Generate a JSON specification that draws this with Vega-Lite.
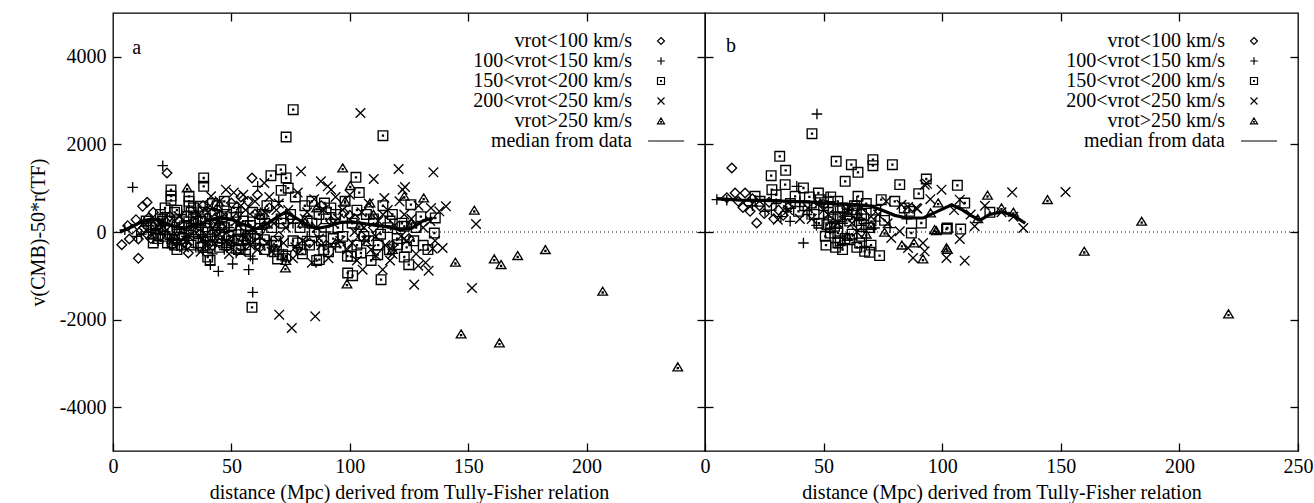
{
  "$schema": "https://vega.github.io/schema/vega-lite/v6.json",
  "background": "white",
  "padding": {"left": 27, "top": 11, "right": 2, "bottom": 0},
  "autosize": {"type": "pad"},
  "spacing": 0,
  "bounds": "flush",
  "datasets": {
    "ptsA": [
      {"c":"D","x":3.7,"y":-290},{"c":"D","x":6.9,"y":-160},{"c":"D","x":10.7,"y":-160},{"c":"D","x":14.6,"y":-61},{"c":"D","x":10.7,"y":-601},{"c":"D","x":6.2,"y":144},{"c":"D","x":9.7,"y":281},{"c":"D","x":12.5,"y":586},{"c":"D","x":14.4,"y":678},{"c":"D","x":22.8,"y":1347},{"c":"D","x":8,"y":60},{"c":"D","x":12,"y":40},{"c":"D","x":15,"y":320},{"c":"D","x":17,"y":450},{"c":"D","x":18,"y":180},{"c":"D","x":20,"y":-90},{"c":"D","x":22,"y":120},{"c":"D","x":24,"y":360},{"c":"D","x":26,"y":-160},{"c":"D","x":28,"y":260},{"c":"D","x":30,"y":-240},{"c":"D","x":31.3,"y":-289},{"c":"D","x":31.8,"y":-479},{"c":"D","x":33,"y":60},{"c":"D","x":35,"y":390},{"c":"D","x":37,"y":-40},{"c":"D","x":40,"y":190},{"c":"D","x":42,"y":-310},{"c":"D","x":44,"y":520},{"c":"D","x":46,"y":90},{"c":"D","x":48,"y":-120},{"c":"D","x":50,"y":660},{"c":"D","x":52,"y":310},{"c":"D","x":54,"y":800},{"c":"D","x":56,"y":-210},{"c":"D","x":58.7,"y":1233},{"c":"D","x":60,"y":410},{"c":"D","x":62,"y":-350},{"c":"D","x":64,"y":150},{"c":"D","x":66,"y":550},{"c":"D","x":70,"y":-100},{"c":"D","x":75,"y":300},{"c":"D","x":78,"y":-400},{"c":"D","x":83,"y":-250},{"c":"D","x":88,"y":600},{"c":"D","x":92,"y":250},{"c":"D","x":97.6,"y":434},{"c":"D","x":100,"y":380},{"c":"D","x":102,"y":300},{"c":"D","x":105,"y":-100},{"c":"D","x":110,"y":100},{"c":"D","x":118,"y":-300},{"c":"D","x":125,"y":-150},{"c":"D","x":19,"y":230},{"c":"D","x":27,"y":30},{"c":"D","x":38,"y":600},{"c":"D","x":57,"y":700},{"c":"D","x":61,"y":850},
      {"c":"D","x":13,"y":100},{"c":"D","x":16,"y":-150},{"c":"D","x":21,"y":30},{"c":"D","x":25,"y":-300},{"c":"D","x":29,"y":-100},{"c":"D","x":34,"y":250},{"c":"D","x":39,"y":-200},{"c":"D","x":43,"y":300},
      {"c":"P","x":8.3,"y":1020},{"c":"P","x":21,"y":1514},{"c":"P","x":41.1,"y":-746},{"c":"P","x":44.5,"y":-898},{"c":"P","x":50.5,"y":-731},{"c":"P","x":57.3,"y":-860},{"c":"P","x":59,"y":-616},{"c":"P","x":55.7,"y":-404},{"c":"P","x":59,"y":-1377},{"c":"P","x":61.1,"y":1043},{"c":"P","x":5,"y":50},{"c":"P","x":10,"y":-100},{"c":"P","x":13,"y":200},{"c":"P","x":16,"y":0},{"c":"P","x":19,"y":-200},{"c":"P","x":21,"y":350},{"c":"P","x":23,"y":-50},{"c":"P","x":25,"y":150},{"c":"P","x":27,"y":-250},{"c":"P","x":29,"y":400},{"c":"P","x":31,"y":-100},{"c":"P","x":33,"y":200},{"c":"P","x":35,"y":-350},{"c":"P","x":37,"y":100},{"c":"P","x":39,"y":-200},{"c":"P","x":41,"y":300},{"c":"P","x":43,"y":-50},{"c":"P","x":45,"y":200},{"c":"P","x":47,"y":-400},{"c":"P","x":49,"y":100},{"c":"P","x":51,"y":-250},{"c":"P","x":53,"y":450},{"c":"P","x":55,"y":-100},{"c":"P","x":57,"y":250},{"c":"P","x":60,"y":-300},{"c":"P","x":63,"y":100},{"c":"P","x":66,"y":-200},{"c":"P","x":70,"y":700},{"c":"P","x":72,"y":-500},{"c":"P","x":76,"y":200},{"c":"P","x":82,"y":-100},{"c":"P","x":90,"y":0},{"c":"P","x":18,"y":80},{"c":"P","x":24,"y":-170},{"c":"P","x":28,"y":110},{"c":"P","x":34,"y":-60},{"c":"P","x":38,"y":-420},{"c":"P","x":42,"y":-500},{"c":"P","x":46,"y":-250},{"c":"P","x":52,"y":-480},{"c":"P","x":58,"y":-550},
      {"c":"P","x":12,"y":-50},{"c":"P","x":15,"y":150},{"c":"P","x":22,"y":200},{"c":"P","x":26,"y":-50},{"c":"P","x":30,"y":250},{"c":"P","x":36,"y":-150},{"c":"P","x":40,"y":-50},{"c":"P","x":44,"y":100},{"c":"P","x":48,"y":-350},{"c":"P","x":54,"y":50},
      {"c":"S","x":24.5,"y":960},{"c":"S","x":24.5,"y":820},{"c":"S","x":24.5,"y":720},{"c":"S","x":32.1,"y":815},{"c":"S","x":32.1,"y":700},{"c":"S","x":32.1,"y":586},{"c":"S","x":38.3,"y":1233},{"c":"S","x":38.3,"y":1043},{"c":"S","x":36.9,"y":586},{"c":"S","x":66.7,"y":1286},{"c":"S","x":70.9,"y":1423},{"c":"S","x":73.1,"y":1233},{"c":"S","x":76.1,"y":2792},{"c":"S","x":73.1,"y":2169},{"c":"S","x":114,"y":2199},{"c":"S","x":102.6,"y":1248},{"c":"S","x":40,"y":-571},{"c":"S","x":58.7,"y":-1720},{"c":"S","x":69.5,"y":-616},{"c":"S","x":71.6,"y":-518},{"c":"S","x":52.6,"y":-160},{"c":"S","x":63.9,"y":-175},{"c":"S","x":68.8,"y":-213},{"c":"S","x":79.4,"y":-404},{"c":"S","x":87.1,"y":-631},{"c":"S","x":89.3,"y":662},{"c":"S","x":99.1,"y":-936},{"c":"S","x":101.2,"y":-997},{"c":"S","x":113.2,"y":-1088},{"c":"S","x":123,"y":-571},{"c":"S","x":124.9,"y":-746},{"c":"S","x":111.8,"y":-518},{"c":"S","x":116.7,"y":-404},{"c":"S","x":120.2,"y":-289},{"c":"S","x":123,"y":130},{"c":"S","x":100.5,"y":-555},{"c":"S","x":104.7,"y":-479},{"c":"S","x":125.8,"y":623},{"c":"S","x":136.1,"y":320},{"c":"S","x":135.7,"y":-23},{"c":"S","x":131,"y":-304},
      {"c":"S","x":18,"y":150},{"c":"S","x":20,"y":400},{"c":"S","x":22,"y":-100},{"c":"S","x":24,"y":250},{"c":"S","x":26,"y":-300},{"c":"S","x":27,"y":500},{"c":"S","x":29,"y":100},{"c":"S","x":30,"y":-150},{"c":"S","x":34,"y":300},{"c":"S","x":36,"y":-250},{"c":"S","x":38,"y":450},{"c":"S","x":40,"y":0},{"c":"S","x":41,"y":-650},{"c":"S","x":42,"y":650},{"c":"S","x":44,"y":-200},{"c":"S","x":46,"y":350},{"c":"S","x":47,"y":700},{"c":"S","x":48,"y":-300},{"c":"S","x":50,"y":150},{"c":"S","x":51,"y":550},{"c":"S","x":53,"y":-400},{"c":"S","x":55,"y":250},{"c":"S","x":57,"y":-150},{"c":"S","x":59,"y":450},{"c":"S","x":61,"y":-50},{"c":"S","x":62,"y":300},{"c":"S","x":64,"y":-400},{"c":"S","x":65,"y":600},{"c":"S","x":67,"y":100},{"c":"S","x":69,"y":-300},{"c":"S","x":71,"y":950},{"c":"S","x":72,"y":200},{"c":"S","x":73,"y":-550},{"c":"S","x":74,"y":1000},{"c":"S","x":75,"y":400},{"c":"S","x":76,"y":-200},{"c":"S","x":77,"y":800},{"c":"S","x":79,"y":100},{"c":"S","x":80,"y":-500},{"c":"S","x":81,"y":600},{"c":"S","x":82,"y":250},{"c":"S","x":83,"y":-300},{"c":"S","x":84,"y":700},{"c":"S","x":85,"y":0},{"c":"S","x":86,"y":-650},{"c":"S","x":87,"y":400},{"c":"S","x":88,"y":-200},{"c":"S","x":90,"y":300},{"c":"S","x":91,"y":-450},{"c":"S","x":92,"y":550},{"c":"S","x":93,"y":-150},{"c":"S","x":95,"y":100},{"c":"S","x":96,"y":-350},{"c":"S","x":98,"y":700},{"c":"S","x":99,"y":-550},{"c":"S","x":101,"y":200},{"c":"S","x":103,"y":-300},{"c":"S","x":104,"y":900},{"c":"S","x":106,"y":-100},{"c":"S","x":107,"y":400},{"c":"S","x":109,"y":-650},{"c":"S","x":110,"y":300},{"c":"S","x":112,"y":-300},{"c":"S","x":114,"y":600},{"c":"S","x":116,"y":100},{"c":"S","x":118,"y":400},{"c":"S","x":120,"y":-150},{"c":"S","x":122,"y":200},{"c":"S","x":127,"y":-200},{"c":"S","x":130,"y":350},{"c":"S","x":133,"y":-400},
      {"c":"S","x":16,"y":100},{"c":"S","x":19,"y":-150},{"c":"S","x":21,"y":300},{"c":"S","x":23,"y":50},{"c":"S","x":25,"y":-250},{"c":"S","x":28,"y":-50},{"c":"S","x":31,"y":350},{"c":"S","x":33,"y":-300},{"c":"S","x":35,"y":0},{"c":"S","x":37,"y":250},{"c":"S","x":39,"y":-100},{"c":"S","x":43,"y":400},{"c":"S","x":45,"y":-350},{"c":"S","x":49,"y":-100},{"c":"S","x":17,"y":-250},{"c":"S","x":26,"y":450},{"c":"S","x":34,"y":550},{"c":"S","x":45,"y":-50},
      {"c":"S","x":20,"y":50},{"c":"S","x":23,"y":-250},{"c":"S","x":29,"y":-300},{"c":"S","x":32,"y":150},{"c":"S","x":36,"y":50},{"c":"S","x":39,"y":300},{"c":"S","x":41,"y":-300},{"c":"S","x":43,"y":150},{"c":"S","x":47,"y":100},{"c":"S","x":50,"y":-200},{"c":"S","x":52,"y":450},{"c":"S","x":54,"y":50},{"c":"S","x":56,"y":-400},{"c":"S","x":58,"y":150},{"c":"S","x":60,"y":-150},{"c":"S","x":63,"y":400},
      {"c":"S","x":14,"y":250},{"c":"S","x":17,"y":-50},{"c":"S","x":22,"y":550},{"c":"S","x":27,"y":-400},{"c":"S","x":33,"y":450},{"c":"S","x":38,"y":-350},{"c":"S","x":44,"y":600},{"c":"S","x":48,"y":400},{"c":"S","x":53,"y":-200},{"c":"S","x":58,"y":-100},{"c":"S","x":64,"y":200},{"c":"S","x":68,"y":-450},{"c":"S","x":71,"y":300},{"c":"S","x":78,"y":-250},{"c":"S","x":84,"y":200},{"c":"S","x":89,"y":-400},{"c":"S","x":94,"y":400},{"c":"S","x":97,"y":-100},{"c":"S","x":103,"y":500},{"c":"S","x":108,"y":-200},{"c":"S","x":113,"y":-50},{"c":"S","x":117,"y":250},{"c":"S","x":124,"y":-350},{"c":"S","x":128,"y":100},
      {"c":"X","x":104.5,"y":2717},{"c":"X","x":79.4,"y":1385},{"c":"X","x":87.8,"y":1157},{"c":"X","x":90.7,"y":1043},{"c":"X","x":92.1,"y":966},{"c":"X","x":110.1,"y":1210},{"c":"X","x":120.6,"y":1438},{"c":"X","x":135.3,"y":1362},{"c":"X","x":47.7,"y":966},{"c":"X","x":63.9,"y":1119},{"c":"X","x":41.4,"y":815},{"c":"X","x":70.2,"y":-1887},{"c":"X","x":75.5,"y":-2192},{"c":"X","x":85.4,"y":-1925},{"c":"X","x":114.6,"y":776},{"c":"X","x":122.3,"y":966},{"c":"X","x":123.3,"y":1027},{"c":"X","x":134.3,"y":548},{"c":"X","x":137.8,"y":472},{"c":"X","x":140.6,"y":586},{"c":"X","x":153.3,"y":183},{"c":"X","x":135,"y":-380},{"c":"X","x":139.2,"y":-365},{"c":"X","x":127.2,"y":-1202},{"c":"X","x":151.6,"y":-1278},{"c":"X","x":105.4,"y":-860},{"c":"X","x":113.9,"y":-860},{"c":"X","x":128.9,"y":-769},{"c":"X","x":133.3,"y":-883},{"c":"X","x":121.6,"y":-99},{"c":"X","x":111,"y":-540},
      {"c":"X","x":32,"y":-100},{"c":"X","x":36,"y":400},{"c":"X","x":39,"y":-300},{"c":"X","x":42,"y":100},{"c":"X","x":45,"y":700},{"c":"X","x":48,"y":-200},{"c":"X","x":51,"y":900},{"c":"X","x":52,"y":250},{"c":"X","x":54,"y":-450},{"c":"X","x":55,"y":850},{"c":"X","x":56,"y":500},{"c":"X","x":58,"y":-300},{"c":"X","x":60,"y":700},{"c":"X","x":62,"y":-100},{"c":"X","x":64,"y":450},{"c":"X","x":66,"y":800},{"c":"X","x":67,"y":-450},{"c":"X","x":68,"y":200},{"c":"X","x":70,"y":650},{"c":"X","x":72,"y":-250},{"c":"X","x":74,"y":500},{"c":"X","x":76,"y":-600},{"c":"X","x":78,"y":900},{"c":"X","x":80,"y":-200},{"c":"X","x":82,"y":450},{"c":"X","x":84,"y":-700},{"c":"X","x":85,"y":750},{"c":"X","x":86,"y":100},{"c":"X","x":88,"y":-300},{"c":"X","x":89,"y":500},{"c":"X","x":91,"y":-600},{"c":"X","x":93,"y":200},{"c":"X","x":94,"y":800},{"c":"X","x":96,"y":-200},{"c":"X","x":97,"y":500},{"c":"X","x":99,"y":-400},{"c":"X","x":100,"y":850},{"c":"X","x":102,"y":0},{"c":"X","x":103,"y":-650},{"c":"X","x":105,"y":450},{"c":"X","x":107,"y":-200},{"c":"X","x":108,"y":650},{"c":"X","x":109,"y":-400},{"c":"X","x":112,"y":250},{"c":"X","x":115,"y":-300},{"c":"X","x":116,"y":500},{"c":"X","x":117,"y":-650},{"c":"X","x":119,"y":150},{"c":"X","x":121,"y":700},{"c":"X","x":124,"y":-200},{"c":"X","x":126,"y":300},{"c":"X","x":128,"y":-500},{"c":"X","x":129,"y":600},{"c":"X","x":131,"y":100},{"c":"X","x":132,"y":-700},{"c":"X","x":134,"y":250},{"c":"X","x":136,"y":-200},
      {"c":"X","x":20,"y":200},{"c":"X","x":25,"y":-100},{"c":"X","x":28,"y":350},{"c":"X","x":30,"y":-350},{"c":"X","x":34,"y":150},{"c":"X","x":38,"y":-150},{"c":"X","x":40,"y":450},{"c":"X","x":43,"y":-250},{"c":"X","x":46,"y":50},{"c":"X","x":50,"y":-350},{"c":"X","x":53,"y":150},{"c":"X","x":57,"y":-50},
      {"c":"X","x":26,"y":250},{"c":"X","x":31,"y":-200},{"c":"X","x":37,"y":-450},{"c":"X","x":41,"y":600},{"c":"X","x":44,"y":-100},{"c":"X","x":47,"y":400},{"c":"X","x":49,"y":-500},{"c":"X","x":54,"y":600},{"c":"X","x":59,"y":100},{"c":"X","x":61,"y":-400},{"c":"X","x":65,"y":-250},{"c":"X","x":69,"y":500},{"c":"X","x":73,"y":100},{"c":"X","x":77,"y":-350},{"c":"X","x":81,"y":300},{"c":"X","x":87,"y":-150},{"c":"X","x":92,"y":-300},{"c":"X","x":95,"y":300},{"c":"X","x":101,"y":-250},{"c":"X","x":106,"y":100},{"c":"X","x":111,"y":-100},{"c":"X","x":114,"y":400},{"c":"X","x":118,"y":-500},{"c":"X","x":123,"y":400},
      {"c":"T","x":31.3,"y":1004},{"c":"T","x":97,"y":1461},{"c":"T","x":100.2,"y":1058},{"c":"T","x":108.5,"y":662},{"c":"T","x":123,"y":815},{"c":"T","x":131.2,"y":776},{"c":"T","x":152.6,"y":495},{"c":"T","x":144.6,"y":-692},{"c":"T","x":161,"y":-616},{"c":"T","x":163.9,"y":-746},{"c":"T","x":170.9,"y":-540},{"c":"T","x":182.6,"y":-404},{"c":"T","x":206.8,"y":-1354},{"c":"T","x":147,"y":-2329},{"c":"T","x":163.2,"y":-2534},{"c":"T","x":238.5,"y":-3082},{"c":"T","x":72.8,"y":-822},{"c":"T","x":98.8,"y":-1187},{"c":"T","x":45,"y":250},{"c":"T","x":55,"y":-100},{"c":"T","x":62,"y":400},{"c":"T","x":68,"y":-350},{"c":"T","x":73,"y":-650},{"c":"T","x":80,"y":200},{"c":"T","x":86,"y":550},{"c":"T","x":94,"y":-250},{"c":"T","x":104,"y":150},{"c":"T","x":110,"y":400},{"c":"T","x":118,"y":-400},{"c":"T","x":126,"y":200},{"c":"T","x":98,"y":700}
    ],
    "medA": [
      {"x":3,"y":0},{"x":8,"y":120},{"x":13,"y":260},{"x":17,"y":300},{"x":21,"y":230},{"x":25,"y":140},{"x":30,"y":90},{"x":35,"y":140},{"x":40,"y":260},{"x":45,"y":340},{"x":50,"y":290},{"x":55,"y":180},{"x":60,"y":70},{"x":64,"y":150},{"x":69,"y":330},{"x":73,"y":460},{"x":77,"y":330},{"x":81,"y":190},{"x":86,"y":80},{"x":91,"y":130},{"x":96,"y":220},{"x":101,"y":230},{"x":106,"y":190},{"x":111,"y":150},{"x":116,"y":120},{"x":121,"y":50},{"x":126,"y":80},{"x":131,"y":260},{"x":135,"y":320}
    ],
    "ptsB": [
      {"c":"D","x":11.3,"y":1461},{"c":"D","x":12.7,"y":890},{"c":"D","x":16.9,"y":890},{"c":"D","x":18.3,"y":662},{"c":"D","x":19,"y":472},{"c":"D","x":21.8,"y":205},{"c":"D","x":9.2,"y":780},{"c":"D","x":14,"y":700},{"c":"D","x":16,"y":560},{"c":"D","x":20,"y":760},{"c":"D","x":23,"y":600},{"c":"D","x":25,"y":420},{"c":"D","x":27,"y":680},{"c":"D","x":29,"y":300},{"c":"D","x":31,"y":500},{"c":"D","x":33,"y":380},{"c":"D","x":35,"y":560},
      {"c":"P","x":47.2,"y":2694},{"c":"P","x":9.2,"y":723},{"c":"P","x":41.5,"y":-251},{"c":"P","x":34.5,"y":472},{"c":"P","x":35.9,"y":244},{"c":"P","x":38.7,"y":1043},{"c":"P","x":25.3,"y":470},{"c":"P","x":58.8,"y":434},{"c":"P","x":71.5,"y":91},{"c":"P","x":28,"y":500},{"c":"P","x":32,"y":350},{"c":"P","x":45,"y":550},{"c":"P","x":50,"y":300},{"c":"P","x":55,"y":450},{"c":"P","x":58,"y":200},{"c":"P","x":62,"y":600},{"c":"P","x":66,"y":150},{"c":"P","x":72,"y":250},{"c":"P","x":78,"y":100},{"c":"P","x":85,"y":300},{"c":"P","x":5,"y":740},{"c":"P","x":40,"y":700},{"c":"P","x":52,"y":800},{"c":"P","x":64,"y":700},
      {"c":"P","x":20,"y":600},{"c":"P","x":30,"y":650},{"c":"P","x":43,"y":400},{"c":"P","x":47,"y":150},
      {"c":"S","x":45.1,"y":2244},{"c":"S","x":31.5,"y":1728},{"c":"S","x":34,"y":1408},{"c":"S","x":27.9,"y":1286},{"c":"S","x":28.2,"y":966},{"c":"S","x":33.8,"y":1081},{"c":"S","x":41.5,"y":1005},{"c":"S","x":38,"y":815},{"c":"S","x":39.4,"y":472},{"c":"S","x":21.1,"y":815},{"c":"S","x":23.2,"y":700},{"c":"S","x":47.8,"y":890},{"c":"S","x":48.6,"y":738},{"c":"S","x":51.4,"y":167},{"c":"S","x":50.7,"y":-99},{"c":"S","x":52.8,"y":-23},{"c":"S","x":55.3,"y":1614},{"c":"S","x":61.7,"y":1537},{"c":"S","x":64.5,"y":1362},{"c":"S","x":70.8,"y":1651},{"c":"S","x":70.8,"y":1514},{"c":"S","x":79,"y":1537},{"c":"S","x":82.1,"y":1081},{"c":"S","x":93.3,"y":1210},{"c":"S","x":90.1,"y":875},{"c":"S","x":59.1,"y":1157},{"c":"S","x":64.5,"y":815},{"c":"S","x":62.4,"y":510},{"c":"S","x":63.8,"y":434},{"c":"S","x":74.3,"y":738},{"c":"S","x":75.7,"y":266},{"c":"S","x":65.9,"y":167},{"c":"S","x":87,"y":-23},{"c":"S","x":91.2,"y":205},{"c":"S","x":86.3,"y":472},{"c":"S","x":101.8,"y":68},{"c":"S","x":56,"y":-251},{"c":"S","x":60.9,"y":-175},{"c":"S","x":65.2,"y":-251},{"c":"S","x":67.3,"y":-441},{"c":"S","x":69.4,"y":-464},{"c":"S","x":73.6,"y":-540},{"c":"S","x":54.6,"y":130},{"c":"S","x":56,"y":-23},{"c":"S","x":50,"y":600},{"c":"S","x":52,"y":450},{"c":"S","x":54,"y":300},{"c":"S","x":56,"y":700},{"c":"S","x":58,"y":550},{"c":"S","x":53,"y":800},{"c":"S","x":57,"y":350},{"c":"S","x":51,"y":-300},{"c":"S","x":59,"y":-150},{"c":"S","x":60,"y":400},{"c":"S","x":106.4,"y":1066},{"c":"S","x":109.5,"y":662},{"c":"S","x":120.1,"y":449},{"c":"S","x":102.2,"y":91},{"c":"S","x":107.8,"y":68},{"c":"S","x":30,"y":850},{"c":"S","x":36,"y":650},{"c":"S","x":42,"y":600},{"c":"S","x":44,"y":800},{"c":"S","x":46,"y":400},{"c":"S","x":55,"y":-350},{"c":"S","x":58,"y":-400},{"c":"S","x":62,"y":-50},{"c":"S","x":66,"y":-100},{"c":"S","x":68,"y":650},{"c":"S","x":72,"y":500},{"c":"S","x":80,"y":700},{"c":"S","x":84,"y":550},
      {"c":"S","x":48,"y":200},{"c":"S","x":53,"y":100},{"c":"S","x":57,"y":-200},{"c":"S","x":61,"y":250},{"c":"S","x":64,"y":-350},{"c":"S","x":67,"y":300},{"c":"S","x":70,"y":-300},{"c":"S","x":63,"y":600},{"c":"S","x":66,"y":400},{"c":"S","x":69,"y":100},
      {"c":"X","x":92.6,"y":1081},{"c":"X","x":99.7,"y":966},{"c":"X","x":76.4,"y":700},{"c":"X","x":82.8,"y":623},{"c":"X","x":89,"y":548},{"c":"X","x":78.5,"y":-137},{"c":"X","x":82.1,"y":16},{"c":"X","x":85.6,"y":-365},{"c":"X","x":91.9,"y":-251},{"c":"X","x":92.6,"y":-441},{"c":"X","x":87.7,"y":-594},{"c":"X","x":101.8,"y":-594},{"c":"X","x":129.5,"y":906},{"c":"X","x":152,"y":913},{"c":"X","x":109.5,"y":-655},{"c":"X","x":107.4,"y":738},{"c":"X","x":134.2,"y":91},{"c":"X","x":113.7,"y":130},{"c":"X","x":107.4,"y":-160},{"c":"X","x":43.4,"y":548},{"c":"X","x":30.7,"y":281},{"c":"X","x":35,"y":500},{"c":"X","x":40,"y":300},{"c":"X","x":48,"y":650},{"c":"X","x":52,"y":400},{"c":"X","x":62,"y":200},{"c":"X","x":66,"y":550},{"c":"X","x":70,"y":350},{"c":"X","x":95,"y":750},{"c":"X","x":105,"y":500},{"c":"X","x":112,"y":400},{"c":"X","x":118,"y":600},{"c":"X","x":125,"y":450},{"c":"X","x":130,"y":350},{"c":"X","x":58,"y":350},{"c":"X","x":56,"y":200},{"c":"X","x":85.6,"y":571},{"c":"X","x":89.5,"y":532},{"c":"X","x":93.6,"y":1100},
      {"c":"X","x":45,"y":300},{"c":"X","x":50,"y":500},{"c":"X","x":60,"y":500},{"c":"X","x":64,"y":0},{"c":"X","x":73,"y":400},{"c":"X","x":77,"y":200},
      {"c":"T","x":119.1,"y":838},{"c":"T","x":144.4,"y":738},{"c":"T","x":184.1,"y":243},{"c":"T","x":159.9,"y":-441},{"c":"T","x":220.7,"y":-1872},{"c":"T","x":98.3,"y":662},{"c":"T","x":95.1,"y":434},{"c":"T","x":97.5,"y":30},{"c":"T","x":91.9,"y":-616},{"c":"T","x":102.2,"y":-400},{"c":"T","x":88.1,"y":-251},{"c":"T","x":75.7,"y":-7},{"c":"T","x":96.8,"y":53},{"c":"T","x":101.8,"y":-365},{"c":"T","x":70,"y":150},{"c":"T","x":60,"y":-100},{"c":"T","x":55,"y":200},{"c":"T","x":65,"y":350},{"c":"T","x":83,"y":-300},{"c":"T","x":130,"y":450},{"c":"T","x":115,"y":300},{"c":"T","x":125,"y":550},{"c":"T","x":68,"y":-50}
    ],
    "medB": [
      {"x":5,"y":760},{"x":15,"y":730},{"x":25,"y":720},{"x":35,"y":700},{"x":45,"y":680},{"x":55,"y":640},{"x":65,"y":620},{"x":70,"y":590},{"x":75,"y":490},{"x":80,"y":380},{"x":85,"y":320},{"x":92,"y":320},{"x":98,"y":470},{"x":104,"y":620},{"x":108,"y":520},{"x":112,"y":380},{"x":116,"y":270},{"x":120,"y":400},{"x":125,"y":460},{"x":130,"y":380},{"x":135,"y":200}
    ]
  },
  "config": {
    "view": {"stroke": "black", "strokeWidth": 1.3},
    "font": "Liberation Serif",
    "axis": {
      "labelFont": "Liberation Serif", "labelFontSize": 20, "labelColor": "black",
      "titleFont": "Liberation Serif", "titleFontSize": 20, "titleFontWeight": "normal", "titleColor": "black",
      "grid": false, "domain": false, "tickColor": "black", "tickWidth": 1.3, "tickSize": -8,
      "labelFlush": false, "labelOverlap": false, "labelExpr": "'' + datum.value"
    },
    "legend": {
      "orient": "top-right", "offset": 18, "labelFont": "Liberation Serif", "labelFontSize": 20, "labelColor": "black",
      "labelAlign": "right", "labelOffset": -39, "labelLimit": 400, "symbolSize": 49, "symbolStrokeColor": "black",
      "symbolStrokeWidth": 1.2, "symbolFillColor": "transparent", "rowPadding": 0, "padding": 0
    }
  },
  "resolve": {"scale": {"shape": "independent"}, "legend": {"shape": "independent"}},
  "hconcat": [
    {
      "width": 592, "height": 438,
      "resolve": {"axis": {"x": "independent", "y": "independent"}},
      "layer": [
        {
          "data": {"values": [{"z": 0}]},
          "mark": {"type": "rule", "color": "black", "strokeWidth": 1, "strokeDash": [1, 3]},
          "encoding": {"y": {"field": "z", "type": "quantitative", "axis": null, "scale": {"domain": [-5000, 5000], "nice": false}}}
        },
        {
          "data": {"name": "ptsA"},
          "mark": {"type": "point", "filled": false, "stroke": "black", "strokeWidth": 1.35, "size": 92, "opacity": 1},
          "encoding": {
            "x": {"field": "x", "type": "quantitative", "scale": {"domain": [0, 250], "nice": false, "zero": false},
                  "axis": {"orient": "bottom", "values": [0, 50, 100, 150, 200], "title": "distance (Mpc) derived from Tully-Fisher relation", "titlePadding": 6, "labelPadding": 13}},
            "y": {"field": "y", "type": "quantitative", "scale": {"domain": [-5000, 5000], "nice": false},
                  "axis": {"orient": "left", "values": [-4000, -2000, 0, 2000, 4000], "title": "v(CMB)-50*r(TF)", "titlePadding": 11, "labelPadding": 15}},
            "shape": {"field": "c", "type": "nominal",
                      "scale": {"domain": ["D", "P", "S", "X", "T", "M"],
                                "range": ["M0,-1L1,0L0,1L-1,0Z", "M-1.1,0H1.1M0,-1.1V1.1", "M-1,-1H1V1H-1ZM-0.1,-0.1H0.1V0.1H-0.1Z", "M-1,-1L1,1M-1,1L1,-1", "M0,-0.85L1,0.8H-1ZM-0.1,0.15H0.1V0.35H-0.1Z", "M-3.7,0H6.6"]},
                      "legend": {"title": null, "labelExpr": "{'D':'vrot<100 km/s','P':'100<vrot<150 km/s','S':'150<vrot<200 km/s','X':'200<vrot<250 km/s','T':'vrot>250 km/s','M':'median from data'}[datum.label]"}}
          }
        },
        {
          "data": {"name": "medA"},
          "mark": {"type": "line", "color": "black", "strokeWidth": 3.2},
          "encoding": {
            "x": {"field": "x", "type": "quantitative", "axis": {"orient": "top", "values": [50, 100, 150, 200], "labels": false, "title": null}},
            "y": {"field": "y", "type": "quantitative", "axis": {"orient": "right", "values": [-4000, -2000, 0, 2000, 4000], "labels": false, "title": null}}
          }
        },
        {
          "data": {"values": [{"t": "a"}]},
          "mark": {"type": "text", "font": "Liberation Serif", "fontSize": 20, "color": "black", "align": "center", "baseline": "middle"},
          "encoding": {
            "x": {"datum": 10, "type": "quantitative", "axis": null},
            "y": {"datum": 4200, "type": "quantitative", "axis": null},
            "text": {"field": "t"}
          }
        }
      ]
    },
    {
      "width": 593, "height": 438,
      "resolve": {"axis": {"x": "independent", "y": "independent"}},
      "layer": [
        {
          "data": {"values": [{"z": 0}]},
          "mark": {"type": "rule", "color": "black", "strokeWidth": 1, "strokeDash": [1, 3]},
          "encoding": {"y": {"field": "z", "type": "quantitative", "axis": null, "scale": {"domain": [-5000, 5000], "nice": false}}}
        },
        {
          "data": {"name": "ptsB"},
          "mark": {"type": "point", "filled": false, "stroke": "black", "strokeWidth": 1.35, "size": 92, "opacity": 1},
          "encoding": {
            "x": {"field": "x", "type": "quantitative", "scale": {"domain": [0, 250], "nice": false, "zero": false},
                  "axis": {"orient": "bottom", "values": [0, 50, 100, 150, 200, 250], "title": "distance (Mpc) derived from Tully-Fisher relation", "titlePadding": 6, "labelPadding": 13}},
            "y": {"field": "y", "type": "quantitative", "scale": {"domain": [-5000, 5000], "nice": false},
                  "axis": {"orient": "left", "values": [-4000, -2000, 0, 2000, 4000], "labels": false, "title": null}},
            "shape": {"field": "c", "type": "nominal",
                      "scale": {"domain": ["D", "P", "S", "X", "T", "M"],
                                "range": ["M0,-1L1,0L0,1L-1,0Z", "M-1.1,0H1.1M0,-1.1V1.1", "M-1,-1H1V1H-1ZM-0.1,-0.1H0.1V0.1H-0.1Z", "M-1,-1L1,1M-1,1L1,-1", "M0,-0.85L1,0.8H-1ZM-0.1,0.15H0.1V0.35H-0.1Z", "M-3.7,0H6.6"]},
                      "legend": {"title": null, "labelExpr": "{'D':'vrot<100 km/s','P':'100<vrot<150 km/s','S':'150<vrot<200 km/s','X':'200<vrot<250 km/s','T':'vrot>250 km/s','M':'median from data'}[datum.label]"}}
          }
        },
        {
          "data": {"name": "medB"},
          "mark": {"type": "line", "color": "black", "strokeWidth": 3.2},
          "encoding": {
            "x": {"field": "x", "type": "quantitative", "axis": {"orient": "top", "values": [50, 100, 150, 200], "labels": false, "title": null}},
            "y": {"field": "y", "type": "quantitative", "axis": {"orient": "right", "values": [-4000, -2000, 0, 2000, 4000], "labels": false, "title": null}}
          }
        },
        {
          "data": {"values": [{"t": "b"}]},
          "mark": {"type": "text", "font": "Liberation Serif", "fontSize": 20, "color": "black", "align": "center", "baseline": "middle"},
          "encoding": {
            "x": {"datum": 11, "type": "quantitative", "axis": null},
            "y": {"datum": 4250, "type": "quantitative", "axis": null},
            "text": {"field": "t"}
          }
        }
      ]
    }
  ]
}
